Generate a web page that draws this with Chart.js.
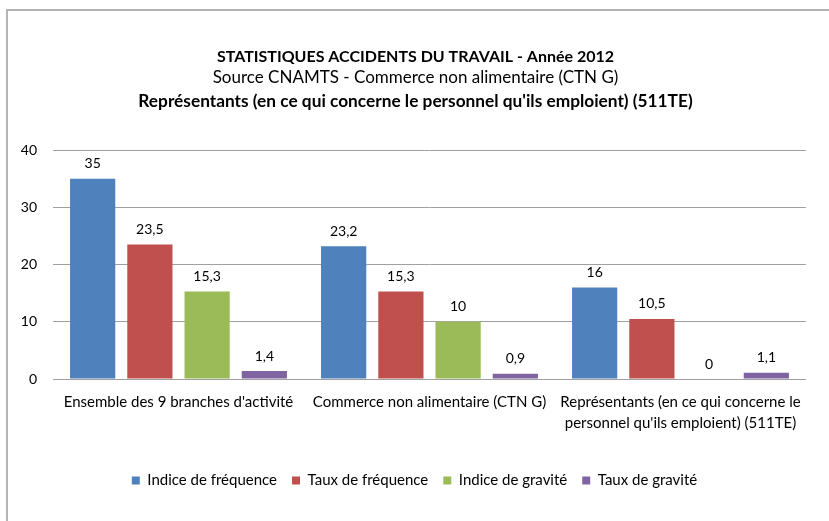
<!DOCTYPE html>
<html>
<head>
<meta charset="utf-8">
<script src="https://cdn.jsdelivr.net/npm/chart.js@4.4.1/dist/chart.umd.min.js"></script>
<style>
html, body { margin: 0; padding: 0; background: #fff; }
#wrap { position: relative; width: 829px; height: 521px; overflow: hidden; }
#frame { position: absolute; left: 6px; top: 9px; width: 900px; height: 600px; border: 2px solid #b4b4b4; box-sizing: border-box; }
canvas { position: absolute; left: 0; top: 0; }
</style>
</head>
<body>
<div id="wrap">
  <div id="frame"></div>
  <canvas id="chart" width="829" height="521"></canvas>
</div>
<script>
const categories = [
  'Ensemble des 9 branches d\'activité',
  'Commerce non alimentaire (CTN G)',
  ['Représentants (en ce qui concerne le', 'personnel qu\'ils emploient) (511TE)']
];
const seriesNames = ['Indice de fréquence', 'Taux de fréquence', 'Indice de gravité', 'Taux de gravité'];
const indiceFrequence = [35, 23.2, 16];
const tauxFrequence = [23.5, 15.3, 10.5];
const indiceGravite = [15.3, 10, 0];
const tauxGravite = [1.4, 0.9, 1.1];
const yTicks = [0, 10, 20, 30, 40];
const titleLines = [
  'STATISTIQUES ACCIDENTS DU TRAVAIL - Année 2012',
  'Source CNAMTS - Commerce non alimentaire (CTN G)',
  'Représentants (en ce qui concerne le personnel qu\'ils emploient) (511TE)'
];

const colors = ['#4f81bd', '#c0504d', '#9bbb59', '#8064a2'];
const FONT = 'Lato, "Open Sans", sans-serif';

// titre sur trois lignes, gras / normal / gras
const titlePlugin = {
  id: 'titlePlugin',
  afterDraw(chart) {
    const ctx = chart.ctx;
    const cx = chart.width / 2 + 1;
    ctx.save();
    ctx.fillStyle = '#000';
    ctx.textAlign = 'center';
    ctx.textBaseline = 'middle';
    ctx.font = 'bold 16px ' + FONT;
    ctx.fillText(titleLines[0], cx, 57);
    ctx.font = '17px ' + FONT;
    ctx.fillText(titleLines[1], cx, 78);
    ctx.font = 'bold 17.3px ' + FONT;
    ctx.fillText(titleLines[2], cx, 101);
    ctx.restore();
  }
};

// valeurs au-dessus des barres
const valueLabels = {
  id: 'valueLabels',
  afterDatasetsDraw(chart) {
    const ctx = chart.ctx;
    ctx.save();
    ctx.font = '14px ' + FONT;
    ctx.fillStyle = '#000';
    ctx.textAlign = 'center';
    ctx.textBaseline = 'middle';
    chart.data.datasets.forEach((ds, i) => {
      chart.getDatasetMeta(i).data.forEach((bar, j) => {
        ctx.fillText(String(ds.data[j]).replace('.', ','), bar.x, bar.y - 15);
      });
    });
    ctx.restore();
  }
};

const ctx = document.getElementById('chart').getContext('2d');
const chart = new Chart(ctx, {
  type: 'bar',
  data: {
    labels: categories,
    datasets: [indiceFrequence, tauxFrequence, indiceGravite, tauxGravite].map((d, i) => ({
      label: seriesNames[i],
      data: d,
      backgroundColor: colors[i],
      borderWidth: 0,
      categoryPercentage: 0.912,
      barPercentage: 0.79
    }))
  },
  options: {
    responsive: false,
    animation: false,
    layout: { padding: { left: 15, right: 15, top: 150, bottom: 23 } },
    plugins: {
      title: { display: false },
      tooltip: { enabled: false },
      legend: {
        position: 'bottom',
        labels: {
          boxWidth: 8,
          boxHeight: 8,
          padding: 15,
          color: '#000',
          font: { family: FONT, size: 15 }
        }
      }
    },
    scales: {
      x: {
        grid: { display: false, drawTicks: false },
        border: { display: false },
        ticks: { color: '#000', padding: 12, maxRotation: 0, font: { family: FONT, size: 15, lineHeight: 1.45 } },
        afterFit(s) { s.height = 79; }
      },
      y: {
        min: 0,
        max: 40,
        afterBuildTicks(s) { s.ticks = yTicks.map(v => ({ value: v })); },
        grid: { color: '#a0a0a0', drawTicks: false },
        border: { display: false },
        ticks: { color: '#000', padding: 16, font: { family: FONT, size: 14 } },
        afterFit(s) { s.width = 38; }
      },
      // axe vide à droite, seulement pour la marge
      yRight: {
        position: 'right',
        min: 0,
        max: 40,
        grid: { display: false, drawTicks: false },
        border: { display: false },
        ticks: { display: false },
        afterFit(s) { s.width = 8; }
      }
    }
  },
  plugins: [titlePlugin, valueLabels]
});
</script>
</body>
</html>
